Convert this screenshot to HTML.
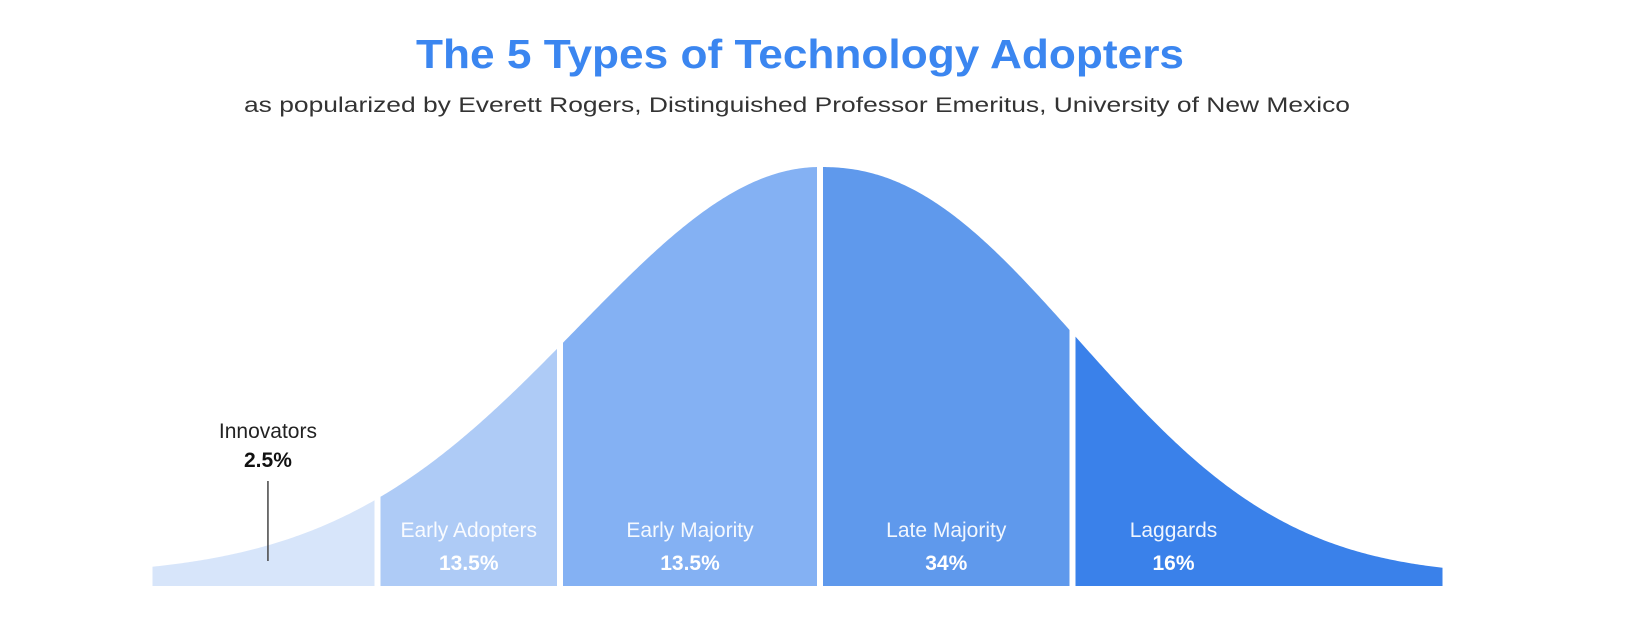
<!DOCTYPE html>
<html><head><meta charset="utf-8">
<style>
html,body{margin:0;padding:0;background:#fff;}
svg{display:block;}
text{font-family:"Liberation Sans",sans-serif;}
</style></head>
<body>
<svg id="chart" width="1632" height="626" viewBox="0 0 1632 626" xmlns="http://www.w3.org/2000/svg">
  <text x="800" y="68" text-anchor="middle" font-size="41" font-weight="bold" fill="#3b86f0" textLength="768" lengthAdjust="spacingAndGlyphs">The 5 Types of Technology Adopters</text>
  <text x="797" y="112" text-anchor="middle" font-size="21" fill="#333" textLength="1106" lengthAdjust="spacingAndGlyphs">as popularized by Everett Rogers, Distinguished Professor Emeritus, University of New Mexico</text>
  <g id="segments"></g>
  <g id="labels"></g>
</svg>
<script>
const categories = ["Innovators", "Early Adopters", "Early Majority", "Late Majority", "Laggards"];
const shares = ["2.5%", "13.5%", "13.5%", "34%", "16%"];
const boundariesZ = [-2.67, -1.77, -1.04, 0, 1.01, 2.49];
const colors = ["#d7e5fa", "#aecbf6", "#84b1f3", "#5f99ec", "#3a81ea"];

const NS = "http://www.w3.org/2000/svg";
const cx = 820, sigma = 250, base = 586, offset = 10, amp = 409, gap = 3;
function xOf(z){ return cx + z * sigma; }
function yOf(x){
  const d = x - cx;
  let g;
  if (d < 0) { const r = -d / 343; g = Math.exp(-Math.pow(r, 2)); }
  else { const r = d / 338; g = Math.exp(-Math.pow(r, 2.23)); }
  return base - (offset + amp * g);
}

const segG = document.getElementById('segments');
const labG = document.getElementById('labels');
for (let i = 0; i < categories.length; i++) {
  let x0 = xOf(boundariesZ[i]), x1 = xOf(boundariesZ[i+1]);
  if (i > 0) x0 += gap;
  if (i < categories.length - 1) x1 -= gap;
  let d = `M${x0},${base} L${x0},${yOf(x0)}`;
  for (let x = x0; x <= x1; x += 2) d += ` L${x},${yOf(x)}`;
  d += ` L${x1},${yOf(x1)} L${x1},${base} Z`;
  const p = document.createElementNS(NS, 'path');
  p.setAttribute('d', d);
  p.setAttribute('fill', colors[i]);
  
  
  segG.appendChild(p);

  if (i === 0) {
    const lx = x0 + (x1 - x0) * 0.52;
    const t1 = document.createElementNS(NS, 'text');
    t1.setAttribute('x', lx); t1.setAttribute('y', 438);
    t1.setAttribute('text-anchor', 'middle'); t1.setAttribute('font-size', '21'); t1.setAttribute('fill', '#222');
    t1.textContent = categories[i];
    
    
    labG.appendChild(t1);
    const t2 = document.createElementNS(NS, 'text');
    t2.setAttribute('x', lx); t2.setAttribute('y', 467);
    t2.setAttribute('text-anchor', 'middle'); t2.setAttribute('font-size', '21'); t2.setAttribute('font-weight', 'bold'); t2.setAttribute('fill', '#111');
    t2.textContent = shares[i];
    
    
    labG.appendChild(t2);
    const ln = document.createElementNS(NS, 'line');
    ln.setAttribute('x1', lx); ln.setAttribute('x2', lx); ln.setAttribute('y1', 481); ln.setAttribute('y2', 561);
    ln.setAttribute('stroke', '#444'); ln.setAttribute('stroke-width', '1.5');
    
    
    labG.appendChild(ln);
  } else {
    const lx = (i === categories.length - 1) ? x0 + 98 : (x0 + x1) / 2;
    const t1 = document.createElementNS(NS, 'text');
    t1.setAttribute('x', lx); t1.setAttribute('y', 537);
    t1.setAttribute('text-anchor', 'middle'); t1.setAttribute('font-size', '21'); t1.setAttribute('fill', '#fff'); t1.setAttribute('fill-opacity', '0.92');
    t1.textContent = categories[i];
    
    
    labG.appendChild(t1);
    const t2 = document.createElementNS(NS, 'text');
    t2.setAttribute('x', lx); t2.setAttribute('y', 570);
    t2.setAttribute('text-anchor', 'middle'); t2.setAttribute('font-size', '21'); t2.setAttribute('font-weight', 'bold'); t2.setAttribute('fill', '#fff');
    t2.textContent = shares[i];
    
    
    labG.appendChild(t2);
  }
}
</script>
</body></html>
